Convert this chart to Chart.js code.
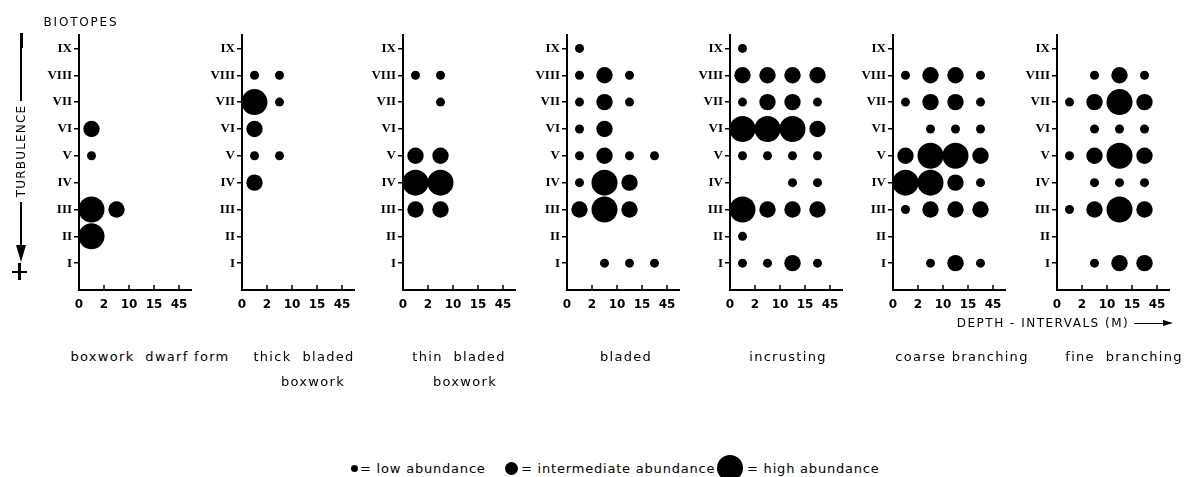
<!DOCTYPE html>
<html>
<head>
<meta charset="utf-8">
<script src="https://cdn.jsdelivr.net/npm/chart.js@4.4.0/dist/chart.umd.min.js"></script>
<style>
  body { margin: 0; background: #fff; width: 1186px; height: 477px; overflow: hidden; position: relative;
         font-family: "DejaVu Sans", sans-serif; color: #000; }
  .panel { position: absolute; top: 22px; }
  .t { position: absolute; white-space: pre; line-height: 1; font-size: 13px; letter-spacing: 1.3px; transform: translate(-50%, -50%); }
  .bar { position: absolute; background: #000; }
  .dot { position: absolute; background: #000; border-radius: 50%; }
</style>
</head>
<body>
<script>
// depth interval tick labels (m) and biotopes (bottom to top)
const depthLabels = ['0', '2', '10', '15', '45'];
const biotopes = ['I', 'II', 'III', 'IV', 'V', 'VI', 'VII', 'VIII', 'IX'];

// abundance per biotope row (IX at top .. I at bottom), per depth interval
// columns: 0-2, 2-10, 10-15, 15-45 ; 0 none, 1 low, 2 intermediate, 3 high
const boxworkDwarf = [
  [0, 0, 0, 0], [0, 0, 0, 0], [0, 0, 0, 0], [2, 0, 0, 0], [1, 0, 0, 0],
  [0, 0, 0, 0], [3, 2, 0, 0], [3, 0, 0, 0], [0, 0, 0, 0]
];
const thickBladed = [
  [0, 0, 0, 0], [1, 1, 0, 0], [3, 1, 0, 0], [2, 0, 0, 0], [1, 1, 0, 0],
  [2, 0, 0, 0], [0, 0, 0, 0], [0, 0, 0, 0], [0, 0, 0, 0]
];
const thinBladed = [
  [0, 0, 0, 0], [1, 1, 0, 0], [0, 1, 0, 0], [0, 0, 0, 0], [2, 2, 0, 0],
  [3, 3, 0, 0], [2, 2, 0, 0], [0, 0, 0, 0], [0, 0, 0, 0]
];
const bladed = [
  [1, 0, 0, 0], [1, 2, 1, 0], [1, 2, 1, 0], [1, 2, 0, 0], [1, 2, 1, 1],
  [1, 3, 2, 0], [2, 3, 2, 0], [0, 0, 0, 0], [0, 1, 1, 1]
];
const incrusting = [
  [1, 0, 0, 0], [2, 2, 2, 2], [1, 2, 2, 1], [3, 3, 3, 2], [1, 1, 1, 1],
  [0, 0, 1, 1], [3, 2, 2, 2], [1, 0, 0, 0], [1, 1, 2, 1]
];
const coarseBranching = [
  [0, 0, 0, 0], [1, 2, 2, 1], [1, 2, 2, 1], [0, 1, 1, 1], [2, 3, 3, 2],
  [3, 3, 2, 1], [1, 2, 2, 2], [0, 0, 0, 0], [0, 1, 2, 1]
];
const fineBranching = [
  [0, 0, 0, 0], [0, 1, 2, 1], [1, 2, 3, 2], [0, 1, 1, 1], [1, 2, 3, 2],
  [0, 1, 1, 1], [1, 2, 3, 2], [0, 0, 0, 0], [0, 1, 2, 2]
];

const growthForms = [boxworkDwarf, thickBladed, thinBladed, bladed, incrusting, coarseBranching, fineBranching];
const formNames = [
  ['boxwork  dwarf form'], ['thick  bladed', 'boxwork'], ['thin  bladed', 'boxwork'],
  ['bladed'], ['incrusting'], ['coarse branching'], ['fine  branching']
];
const legendLabels = ['= low abundance', '= intermediate abundance', '= high abundance'];

// ---- layout / styles ----
const dotRadius = [0, 4.5, 8.2, 13];
const axisX = [79, 242, 403, 567, 730, 893, 1057];
const captionPos = [[[150, 356]], [[304, 356], [313, 381]], [[459, 356], [465, 381]],
                    [[626, 356]], [[788, 356]], [[962, 356]], [[1124, 356]]];

function addText(txt, x, y, style) {
  const d = document.createElement('div');
  d.className = 't';
  d.textContent = txt;
  d.style.left = x + 'px';
  d.style.top = y + 'px';
  Object.assign(d.style, style || {});
  document.body.appendChild(d);
  return d;
}
function addBox(cls, l, t, w, h, extra) {
  const d = document.createElement('div');
  d.className = cls;
  Object.assign(d.style, { left: l + 'px', top: t + 'px', width: w + 'px', height: h + 'px' }, extra || {});
  document.body.appendChild(d);
  return d;
}

function toPoints(grid) {
  const pts = [];
  grid.forEach((row, i) => row.forEach((level, j) => {
    if (level) pts.push({ x: j + 0.5, y: biotopes.length - i, r: dotRadius[level] });
  }));
  return pts;
}

// x ticks drawn upward from the axis line, like the original
const upTicks = {
  id: 'upTicks',
  afterDraw(chart) {
    const xs = chart.scales.x, c = chart.ctx;
    c.save();
    c.strokeStyle = '#000';
    c.lineWidth = 1.5;
    xs.ticks.forEach(t => {
      const px = xs.getPixelForValue(t.value);
      c.beginPath(); c.moveTo(px, xs.top); c.lineTo(px, xs.top - 5); c.stroke();
    });
    c.restore();
  }
};

growthForms.forEach((grid, k) => {
  const wrap = document.createElement('div');
  wrap.className = 'panel';
  wrap.style.left = (axisX[k] - 40) + 'px';
  const cv = document.createElement('canvas');
  cv.width = 165; cv.height = 294;
  wrap.appendChild(cv);
  document.body.appendChild(wrap);

  new Chart(cv, {
    type: 'bubble',
    data: { datasets: [{ data: toPoints(grid), backgroundColor: '#000', borderWidth: 0, clip: false }] },
    options: {
      responsive: false, animation: false, events: [],
      layout: { padding: { top: 10, right: 4, left: 0, bottom: 0 } },
      plugins: { legend: { display: false }, tooltip: { enabled: false } },
      scales: {
        x: {
          type: 'linear', min: 0, max: 4.48,
          afterBuildTicks: s => { s.ticks = depthLabels.map((_, i) => ({ value: i })); },
          afterFit: s => { s.height = 26; },
          ticks: { callback: v => depthLabels[v], color: '#000', padding: 8, maxRotation: 0, autoSkip: false,
                   font: { family: 'DejaVu Sans', size: 12, weight: 'bold' } },
          grid: { drawOnChartArea: false, drawTicks: false },
          border: { color: '#000', width: 2 }
        },
        y: {
          type: 'linear', min: 0, max: 9.5,
          afterBuildTicks: s => { s.ticks = biotopes.map((_, i) => ({ value: i + 1 })); },
          afterFit: s => { s.width = 40; },
          ticks: { callback: v => biotopes[v - 1], color: '#000', padding: 2, autoSkip: false,
                   font: { family: 'Liberation Serif', size: 13, weight: 'bold' } },
          grid: { drawOnChartArea: false, drawTicks: true, tickLength: 5, color: '#000', lineWidth: 1.5 },
          border: { color: '#000', width: 2 }
        }
      }
    },
    plugins: [upTicks]
  });

  formNames[k].forEach((line, n) => addText(line, captionPos[k][n][0], captionPos[k][n][1]));
});

// title and turbulence axis on the left
addText('BIOTOPES', 81, 22, { fontSize: '12px', letterSpacing: '1.8px' });
addBox('bar', 19.5, 33, 3, 15);
addBox('bar', 20.2, 48, 1.5, 53);
addText('TURBULENCE', 20.5, 151, { fontSize: '12px', letterSpacing: '1.2px', transform: 'translate(-50%,-50%) rotate(-90deg)' });
addBox('bar', 20.2, 202, 1.5, 45);
addBox('', 16, 245, 0, 0, { position: 'absolute', borderLeft: '5px solid transparent', borderRight: '5px solid transparent', borderTop: '17px solid #000' });
addBox('bar', 12, 270.5, 15, 2.5);
addBox('bar', 18.3, 263, 2.5, 17);

// depth axis caption
addText('DEPTH - INTERVALS (M)', 1043, 323, { fontSize: '12px', letterSpacing: '1.5px' });
addBox('bar', 1134, 322.5, 30, 1.5);
addBox('', 1163, 319.5, 0, 0, { position: 'absolute', borderTop: '3.5px solid transparent', borderBottom: '3.5px solid transparent', borderLeft: '10px solid #000' });

// legend
const legendDots = [[354, 3.5], [511, 6.5], [730, 13]];
const legendTextLeft = [360, 521, 747];
legendLabels.forEach((lab, i) => {
  const [cx, r] = legendDots[i];
  addBox('dot', cx - r, 468 - r, 2 * r, 2 * r);
  addText(lab, legendTextLeft[i], 468, { fontSize: '13px', letterSpacing: '0.8px', transform: 'translate(0,-50%)' });
});
</script>
</body>
</html>
